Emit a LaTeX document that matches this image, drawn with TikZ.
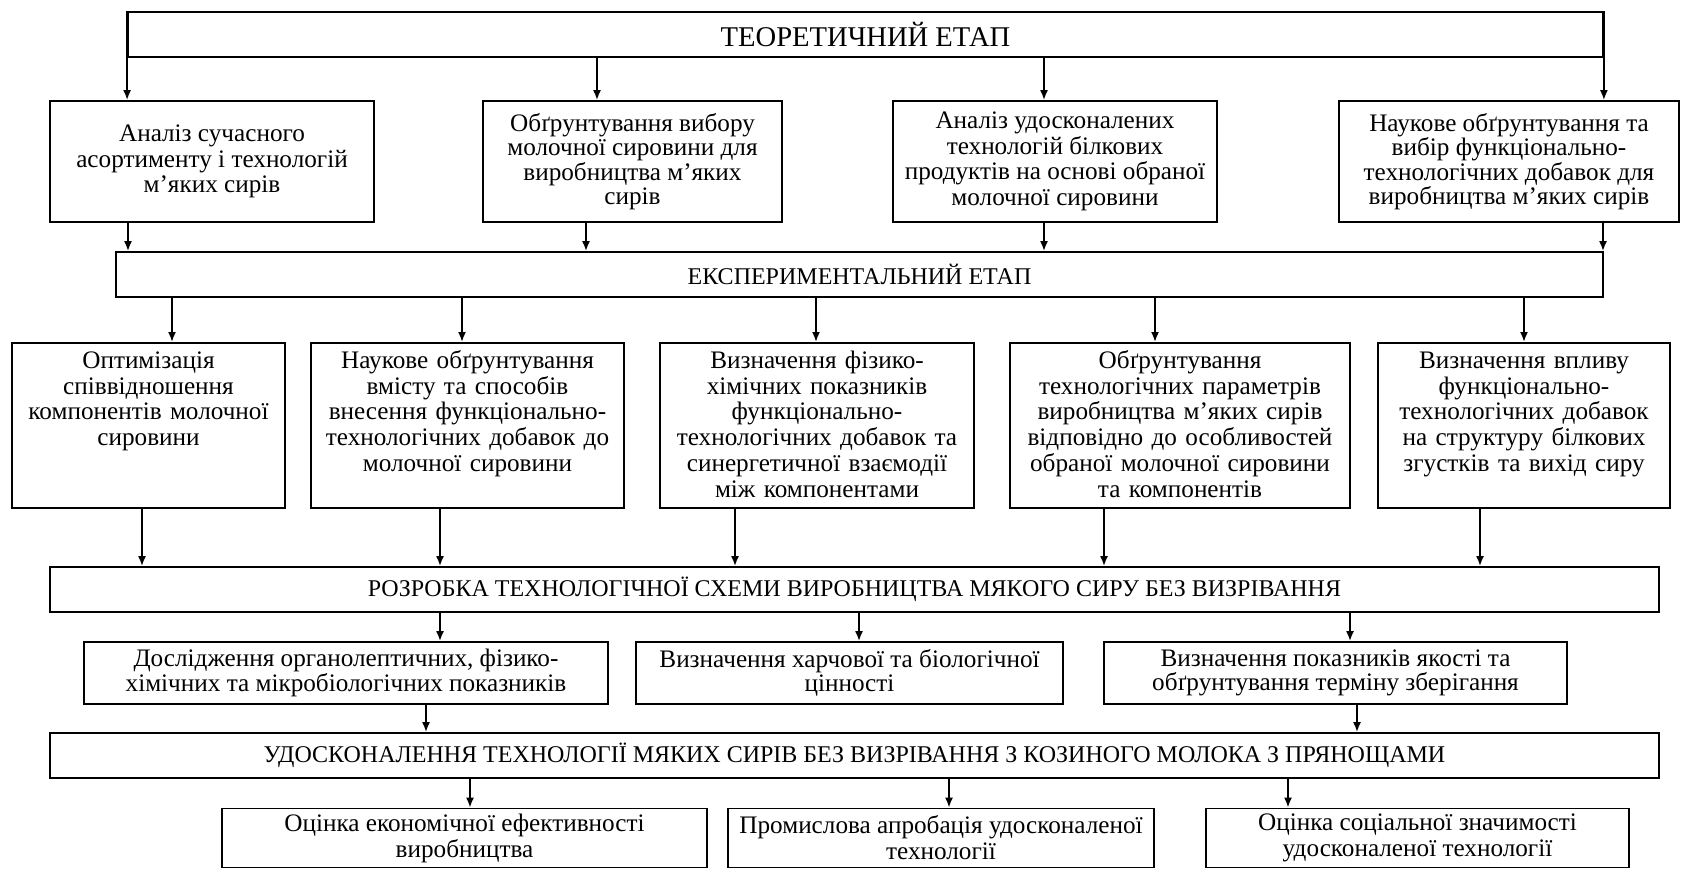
\documentclass[tikz,border=0pt]{standalone}
\usepackage{fontspec}
\setmainfont{Liberation Serif}
\usetikzlibrary{arrows.meta}

\begin{document}
\begin{tikzpicture}[x=0.5pt, y=-0.5pt,
    blok/.style={draw, line width=0.9pt, align=center, inner xsep=2pt, inner ysep=2pt,
      font=\fontsize{12.6}{12.2}\selectfont},
    etap/.style={blok, minimum height=22.5pt, font=\fontsize{12}{13}\selectfont},
    tallblok/.style={blok, anchor=north, text width=#1, inner ysep=3pt,
      text height=9.7pt, text depth=66.8pt, font=\fontsize{12.6}{12.9}\selectfont},
    strilka/.style={line width=0.9pt, -{Latex[length=5pt, width=4pt]}}]
    \useasboundingbox (0,0) rectangle (1681,868);

    % theoretical stage
    \node[etap, minimum width=737.5pt, font=\fontsize{14.3}{15}\selectfont] (teor) at (865.5,34.5) {ТЕОРЕТИЧНИЙ ЕТАП};

    \node[blok, minimum width=162pt, minimum height=60.5pt, font=\fontsize{12.6}{12.6}\selectfont] (b1) at (212,161.5)
        {Аналіз сучасного\\асортименту і технологій\\м’яких сирів};
    \node[blok, minimum width=149.5pt, minimum height=60.5pt] (b2) at (632.5,161.5)
        {Обґрунтування вибору\\молочної сировини для\\виробництва м’яких\\сирів};
    \node[blok, minimum width=162pt, minimum height=60.5pt, font=\fontsize{12.6}{12.8}\selectfont] (b3) at (1055,161.5)
        {Аналіз удосконалених\\технологій білкових\\продуктів на основі обраної\\молочної сировини};
    \node[blok, minimum width=170pt, minimum height=60.5pt] (b4) at (1509,161.5)
        {Наукове обґрунтування та\\вибір функціонально-\\технологічних добавок для\\виробництва м’яких сирів};

    % experimental stage
    \node[etap, minimum width=743.5pt] (exper) at (859.5,274.5) {ЕКСПЕРИМЕНТАЛЬНИЙ ЕТАП};

    \node[tallblok=132.5pt] (c1) at (148.5,342)
        {Оптимізація\\співвідношення\\компонентів молочної\\сировини};
    \node[tallblok=152.5pt] (c2) at (467.5,342)
        {Наукове обґрунтування\\вмісту та способів\\внесення функціонально-\\технологічних добавок до\\молочної сировини};
    \node[tallblok=153pt] (c3) at (817,342)
        {Визначення фізико-\\хімічних показників\\функціонально-\\технологічних добавок та\\синергетичної взаємодії\\між компонентами};
    \node[tallblok=166pt] (c4) at (1180,342)
        {Обґрунтування\\технологічних параметрів\\виробництва м’яких сирів\\відповідно до особливостей\\обраної молочної сировини\\та компонентів};
    \node[tallblok=142pt] (c5) at (1524,342)
        {Визначення впливу\\функціонально-\\технологічних добавок\\на структуру білкових\\згустків та вихід сиру};

    % development of the scheme
    \node[etap, minimum width=804.5pt] (rozr) at (854.5,589.5)
        {РОЗРОБКА ТЕХНОЛОГІЧНОЇ СХЕМИ ВИРОБНИЦТВА МЯКОГО СИРУ БЕЗ ВИЗРІВАННЯ};

    \node[blok, minimum width=262pt, minimum height=31pt] (d1) at (346,673)
        {Дослідження органолептичних, фізико-\\хімічних та мікробіологічних показників};
    \node[blok, minimum width=213.5pt, minimum height=31pt] (d2) at (849.5,673)
        {Визначення харчової та біологічної\\цінності};
    \node[blok, minimum width=231.5pt, minimum height=31pt] (d3) at (1335.5,673)
        {Визначення показників якості та\\обґрунтування терміну зберігання};

    \node[etap, minimum width=804.5pt] (udosk) at (854.5,755.5)
        {УДОСКОНАЛЕННЯ ТЕХНОЛОГІЇ МЯКИХ СИРІВ БЕЗ ВИЗРІВАННЯ З КОЗИНОГО МОЛОКА З ПРЯНОЩАМИ};

    \node[blok, minimum width=242.5pt, minimum height=29.5pt, font=\fontsize{12.6}{13}\selectfont] (e1) at (464.5,838)
        {Оцінка економічної ефективності\\виробництва};
    \node[blok, minimum width=213pt, minimum height=29.5pt, font=\fontsize{12.6}{13}\selectfont] (e2) at (941,838)
        {Промислова апробація удосконаленої\\технології};
    \node[blok, minimum width=211.5pt, minimum height=29.5pt, font=\fontsize{12.6}{13}\selectfont] (e3) at (1417.5,838)
        {Оцінка соціальної значимості\\удосконаленої технології};

    % arrows
    \draw[strilka] (teor.north west) -- (teor.west |- b1.north);
    \draw[strilka] (teor.south -| 597,0) -- (b2.north -| 597,0);
    \draw[strilka] (teor.south -| 1044,0) -- (b3.north -| 1044,0);
    \draw[strilka] (teor.north east) -- (teor.east |- b4.north);

    \draw[strilka] (b1.south -| 128,0) -- (exper.north -| 128,0);
    \draw[strilka] (b2.south -| 586,0) -- (exper.north -| 586,0);
    \draw[strilka] (b3.south -| 1044,0) -- (exper.north -| 1044,0);
    \draw[strilka] (b4.south -| 1603,0) -- (exper.north -| 1603,0);

    \draw[strilka] (exper.south -| 172,0) -- (c1.north -| 172,0);
    \draw[strilka] (exper.south -| 462,0) -- (c2.north -| 462,0);
    \draw[strilka] (exper.south -| 816,0) -- (c3.north -| 816,0);
    \draw[strilka] (exper.south -| 1155,0) -- (c4.north -| 1155,0);
    \draw[strilka] (exper.south -| 1524,0) -- (c5.north -| 1524,0);

    \draw[strilka] (c1.south -| 142,0) -- (rozr.north -| 142,0);
    \draw[strilka] (c2.south -| 440,0) -- (rozr.north -| 440,0);
    \draw[strilka] (c3.south -| 735,0) -- (rozr.north -| 735,0);
    \draw[strilka] (c4.south -| 1104,0) -- (rozr.north -| 1104,0);
    \draw[strilka] (c5.south -| 1480,0) -- (rozr.north -| 1480,0);

    \draw[strilka] (rozr.south -| 440,0) -- (d1.north -| 440,0);
    \draw[strilka] (rozr.south -| 859,0) -- (d2.north -| 859,0);
    \draw[strilka] (rozr.south -| 1350,0) -- (d3.north -| 1350,0);

    \draw[strilka] (d1.south -| 426,0) -- (udosk.north -| 426,0);
    \draw[strilka] (d3.south -| 1357,0) -- (udosk.north -| 1357,0);

    \draw[strilka] (udosk.south -| 470,0) -- (e1.north -| 470,0);
    \draw[strilka] (udosk.south -| 949,0) -- (e2.north -| 949,0);
    \draw[strilka] (udosk.south -| 1288,0) -- (e3.north -| 1288,0);
\end{tikzpicture}
\end{document}
